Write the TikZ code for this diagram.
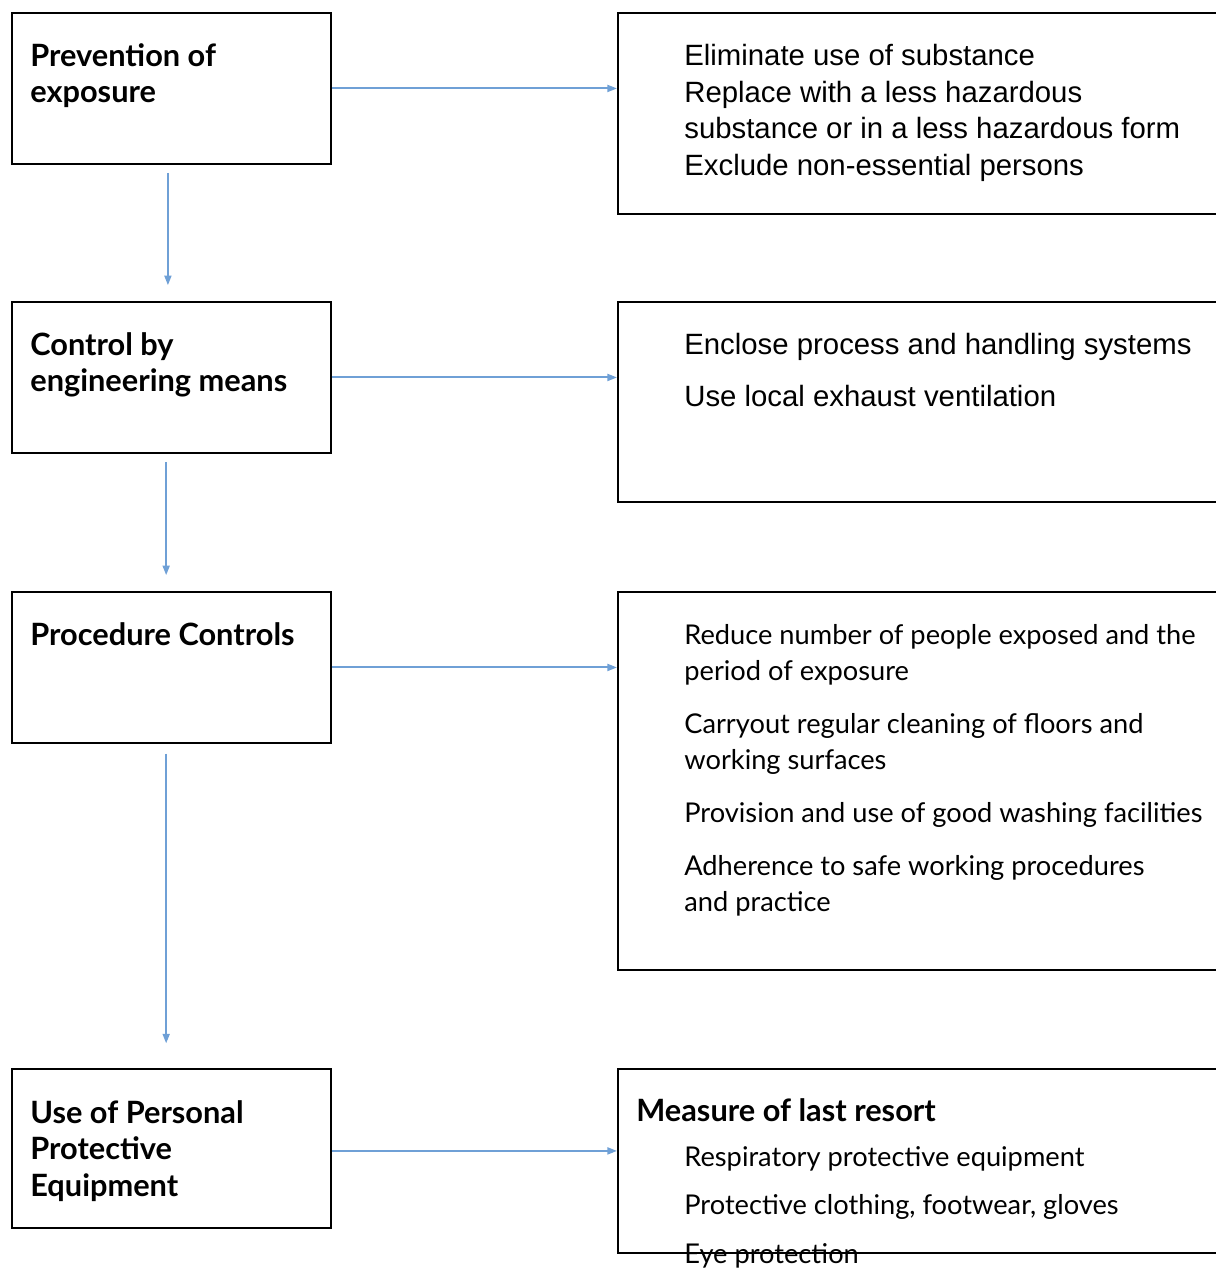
\documentclass[tikz,border=0pt]{standalone}
\usepackage{fontspec}
\setmainfont{Liberation Sans}
\newfontfamily\gill{Lato}
\usetikzlibrary{arrows.meta,positioning}
\definecolor{flowblue}{RGB}{111,160,214}

\begin{document}
\begin{tikzpicture}[x=0.02cm, y=-0.02cm, >={Triangle[length=5.5pt,width=4pt]},
    stage/.style={draw, line width=1.1pt, anchor=north west, minimum width=6.38cm, minimum height=3.02cm},
    action/.style={draw, line width=1.1pt, anchor=north west, minimum width=12.6cm},
    stagetext/.style={anchor=north west, inner sep=0pt, align=left, font={\gill\bfseries\fontsize{17.5}{20.8}\selectfont}},
    arialtext/.style={anchor=north west, inner sep=0pt, align=left, font={\fontsize{16.7}{20.8}\selectfont}},
    gilltext/.style={anchor=north west, inner sep=0pt, align=left, font={\gill\fontsize{15.5}{20.6}\selectfont}},
    flow/.style={->, flowblue, line width=1.1pt}]
    \useasboundingbox (0,0) rectangle (1216,1268);

    % Hierarchy of control, left column
    \node[stage] (prevent) at (11,12) {};
    \node[stage] (engineer) at (11,301) {};
    \node[stage] (procedure) at (11,591) {};
    \node[stage, minimum height=3.18cm] (ppe) at (11,1068) {};

    \node[stagetext] (preventtxt) at ([shift={(19,31)}]prevent.north west) {Prevention of\\exposure};
    \node[stagetext] (engineertxt) at ([shift={(19,31)}]engineer.north west) {Control by\\engineering means};
    \node[stagetext] (proceduretxt) at ([shift={(19,31)}]procedure.north west) {Procedure Controls};
    \node[stagetext] (ppetxt) at ([shift={(19,32)}]ppe.north west) {Use of Personal\\Protective\\Equipment};

    % Measures, right column
    \node[action, minimum height=4.02cm] (elim) at (617,12) {};
    \node[action, minimum height=4.0cm] (encl) at (617,301) {};
    \node[action, minimum height=7.56cm] (reduce) at (617,591) {};
    \node[action, minimum height=3.68cm] (resort) at (617,1068) {};

    \node[arialtext] (elimtxt) at ([shift={(67,32)}]elim.north west)
        {Eliminate use of substance\\Replace with a less hazardous\\substance or in a less hazardous form\\Exclude non-essential persons};
    \node[arialtext] (encltxt) at ([shift={(67,32)}]encl.north west)
        {Enclose process and handling systems\\[9pt]Use local exhaust ventilation};
    \node[gilltext] (reducetxt) at ([shift={(67,33)}]reduce.north west)
        {Reduce number of people exposed and the\\period of exposure\\[9.5pt]Carryout regular cleaning of floors and\\working surfaces\\[9.5pt]Provision and use of good washing facilities\\[9.5pt]Adherence to safe working procedures\\and practice};
    \node[gilltext, font={\gill\bfseries\fontsize{17.5}{20}\selectfont}] (resorthead) at ([shift={(19,30)}]resort.north west) {Measure of last resort};
    \node[gilltext] (resorttxt) at ([shift={(67,78)}]resort.north west)
        {Respiratory protective equipment\\[7pt]Protective clothing, footwear, gloves\\[7pt]Eye protection};

    % Arrows
    \draw[flow] (prevent.east) -- (prevent.east -| elim.west);
    \draw[flow] (engineer.east) -- (engineer.east -| encl.west);
    \draw[flow] (procedure.east) -- (procedure.east -| reduce.west);
    \draw[flow] ([yshift=-1.4pt]ppe.east) -- ([yshift=-1.4pt]ppe.east -| resort.west);

    \draw[flow, shorten <=4.5pt, shorten >=9pt] ([xshift=-2pt]prevent.south) -- ([xshift=-2pt]engineer.north);
    \draw[flow, shorten <=4.5pt, shorten >=9pt] ([xshift=-3pt]engineer.south) -- ([xshift=-3pt]procedure.north);
    \draw[flow, shorten <=5.5pt, shorten >=14pt] ([xshift=-3pt]procedure.south) -- ([xshift=-3pt]ppe.north);
\end{tikzpicture}
\end{document}
